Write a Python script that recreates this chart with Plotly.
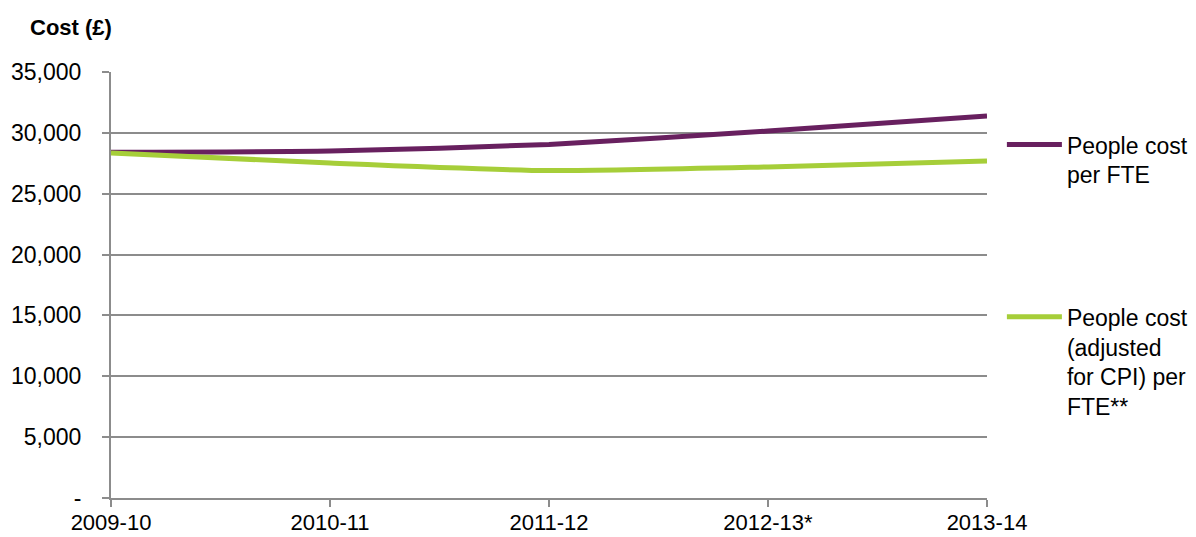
import plotly.graph_objects as go

# Financial years on the category axis
years = ["2009-10", "2010-11", "2011-12", "2012-13*", "2013-14"]

# People cost per FTE (£)
people_cost = [28400, 28500, 29050, 30150, 31380]

# People cost adjusted for CPI per FTE (£)
people_cost_cpi = [28350, 27520, 26900, 27200, 27680]

# Value-axis ticks
y_ticks = [0, 5000, 10000, 15000, 20000, 25000, 30000, 35000]
y_tick_text = ["-", "5,000", "10,000", "15,000", "20,000", "25,000", "30,000", "35,000"]

PURPLE = "#68205F"
GREEN = "#A6CE39"
GRID = "#8C8C8C"
FONT = "Liberation Sans, Arial, sans-serif"
FS = 23

fig = go.Figure()

fig.add_trace(go.Scatter(
    x=years, y=people_cost, mode="lines",
    name="People cost<br>per FTE",
    line=dict(color=PURPLE, width=5, shape="spline", smoothing=0.6),
    legend="legend", showlegend=True,
))
fig.add_trace(go.Scatter(
    x=years, y=people_cost_cpi, mode="lines",
    name="People cost<br>(adjusted<br>for CPI) per<br>FTE**",
    line=dict(color=GREEN, width=5, shape="spline", smoothing=0.6),
    legend="legend2", showlegend=True,
))

legend_common = dict(
    xref="paper", yref="paper", xanchor="left", yanchor="top",
    font=dict(family=FONT, size=FS, color="#000000"),
    bgcolor="rgba(0,0,0,0)", valign="top",
    itemwidth=55,
)

fig.update_layout(
    width=1196, height=537,
    margin=dict(l=111, r=209, t=72, b=39, autoexpand=False),
    paper_bgcolor="white", plot_bgcolor="white",
    font=dict(family=FONT, size=FS, color="#000000"),
    showlegend=True,
    legend=dict(x=1.017, y=0.880, **legend_common),
    legend2=dict(x=1.017, y=0.476, **legend_common),
    xaxis=dict(
        type="category", range=[0, 4], automargin=False,
        showgrid=False, showline=True, linecolor=GRID, linewidth=2,
        ticks="outside", ticklen=7, tickcolor=GRID, tickwidth=2,
        tickfont=dict(family=FONT, size=FS - 1),
        ticklabelstandoff=-3,
        zeroline=False,
    ),
    yaxis=dict(
        range=[0, 35000], automargin=False,
        tickvals=y_ticks, ticktext=y_tick_text,
        showgrid=True, gridcolor=GRID, gridwidth=2,
        showline=True, linecolor=GRID, linewidth=2,
        ticks="outside", ticklen=7, tickcolor=GRID, tickwidth=2,
        tickfont=dict(family=FONT, size=FS),
        ticklabelstandoff=16,
        zeroline=False,
    ),
    annotations=[dict(
        text="<b>Cost (£)</b>", xref="paper", yref="paper",
        x=-0.0947, y=1.1056, xanchor="left", yanchor="middle",
        showarrow=False, font=dict(family=FONT, size=FS - 1, color="#000000"),
    )],
)

fig.write_html("out.html")
